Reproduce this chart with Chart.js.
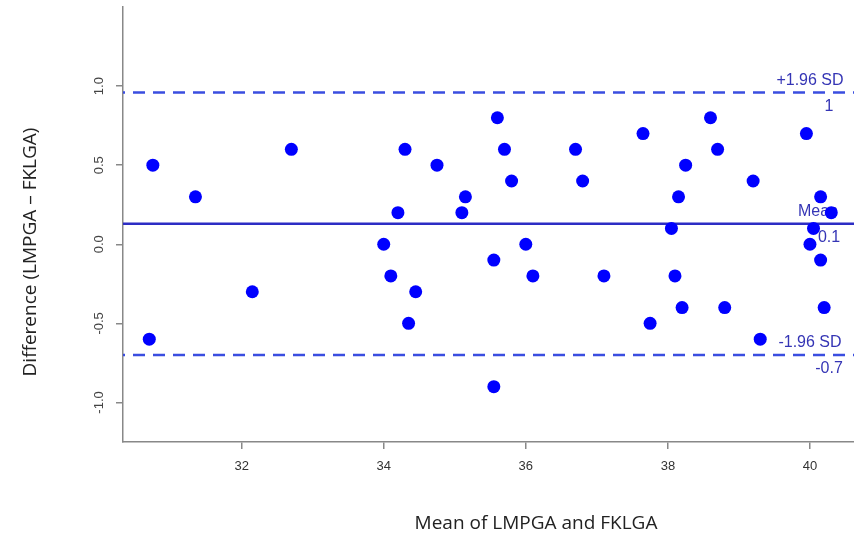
<!DOCTYPE html>
<html>
<head>
<meta charset="utf-8">
<script src="https://cdn.jsdelivr.net/npm/chart.js@4/dist/chart.umd.min.js"></script>
<style>
  body { margin: 0; background: #fff; }
  #wrap { width: 854px; height: 538px; }
</style>
</head>
<body>
<div id="wrap"><canvas id="chartBA" width="854" height="538"></canvas></div>
<script>
// === Data ===
const meanVals = [30.75, 30.7, 31.35, 32.15, 32.7, 34.0, 34.1, 34.2, 34.3, 34.35, 34.45, 34.75,
  35.1, 35.15, 35.55, 35.55, 35.6, 35.7, 35.8, 36.0, 36.1, 36.7, 36.8, 37.1, 37.65, 37.75,
  38.05, 38.1, 38.15, 38.2, 38.25, 38.6, 38.7, 38.8, 39.2, 39.3, 39.95, 40.0, 40.05, 40.15,
  40.15, 40.2, 40.3];
const diffVals = [0.5, -0.6, 0.3, -0.3, 0.6, 0.0, -0.2, 0.2, 0.6, -0.5, -0.3, 0.5,
  0.2, 0.3, -0.1, -0.9, 0.8, 0.6, 0.4, 0.0, -0.2, 0.6, 0.4, -0.2, 0.7, -0.5,
  0.1, -0.2, 0.3, -0.4, 0.5, 0.8, 0.6, -0.4, 0.4, -0.6, 0.7, 0.0, 0.1, 0.3,
  -0.1, -0.4, 0.2];

// limits of agreement: upper, mean, lower
const limitVals = [0.96, 0.13, -0.70];
const limitNames = ["+1.96 SD", "Mean", "-1.96 SD"];
const limitTexts = ["1", "0.1", "-0.7"];

const xTicks = [32, 34, 36, 38, 40];
const yTicks = [-1.0, -0.5, 0.0, 0.5, 1.0];

const xMin = 30.33, xMax = 40.62;
const yMin = -1.25, yMax = 1.5;

// === Styles ===
const axisGrey = "#888";
const labelBlue = "#3535b5";

Chart.defaults.font.family = "'Liberation Sans', Arial, sans-serif";

const points = meanVals.map((m, i) => ({ x: m, y: diffVals[i] }));

function limitLine(v, dashed, color) {
  return {
    data: [{ x: xMin, y: v }, { x: xMax, y: v }],
    showLine: true,
    borderColor: color,
    borderWidth: 2.5,
    borderDash: dashed ? [12, 8] : [],
    borderDashOffset: dashed ? 10 : 0,
    pointRadius: 0,
    fill: false
  };
}

// === Plugin: rotated y tick labels, axis titles, limit labels ===
const textPlugin = {
  id: "textPlugin",
  beforeDatasetsDraw(chart) {
    const ctx = chart.ctx;
    const y = chart.scales.y;
    ctx.save();
    ctx.fillStyle = labelBlue;
    ctx.font = "16px 'Liberation Sans', Arial, sans-serif";
    ctx.textAlign = "center";
    ctx.textBaseline = "middle";
    limitVals.forEach((v, i) => {
      const py = y.getPixelForValue(v);
      ctx.fillText(limitNames[i], i === 1 ? 818 : 810, py - 12);
      ctx.fillText(limitTexts[i], 829, py + 14);
    });
    ctx.restore();
  },
  afterDraw(chart) {
    const ctx = chart.ctx;
    const y = chart.scales.y;
    ctx.save();
    ctx.fillStyle = "#444";
    ctx.font = "13px 'Liberation Sans', Arial, sans-serif";
    ctx.textAlign = "center";
    ctx.textBaseline = "middle";
    yTicks.forEach(v => {
      ctx.save();
      ctx.translate(99, y.getPixelForValue(v));
      ctx.rotate(-Math.PI / 2);
      ctx.fillText(v.toFixed(1), 0, 0);
      ctx.restore();
    });

    // axis titles
    ctx.fillStyle = "#222";
    ctx.font = "19px 'Open Sans', sans-serif";
    ctx.fillText("Mean of LMPGA and FKLGA", 536, 524);
    ctx.save();
    ctx.translate(31, 252);
    ctx.rotate(-Math.PI / 2);
    ctx.fillText("Difference (LMPGA \u2013 FKLGA)", 0, 0);
    ctx.restore();
    ctx.restore();
  }
};

const ctx = document.getElementById("chartBA").getContext("2d");
const chart = new Chart(ctx, {
  type: "scatter",
  data: {
    datasets: [
      {
        data: points,
        backgroundColor: "#0000ff",
        borderWidth: 0,
        pointRadius: 6.5,
        pointHoverRadius: 6.5
      },
      limitLine(limitVals[0], true, "#3a4de0"),
      limitLine(limitVals[1], false, "#2d2dc4"),
      limitLine(limitVals[2], true, "#3a4de0")
    ]
  },
  options: {
    responsive: false,
    animation: false,
    layout: { autoPadding: false, padding: { top: 7, right: 0, left: 0, bottom: 0 } },
    plugins: {
      legend: { display: false },
      tooltip: { enabled: false }
    },
    scales: {
      x: {
        type: "linear",
        min: xMin,
        max: xMax,
        afterFit: s => { s.height = 96; },
        afterBuildTicks: s => { s.ticks = xTicks.map(v => ({ value: v })); },
        ticks: { color: "#333", font: { size: 13 }, padding: 10, maxRotation: 0 },
        grid: { drawOnChartArea: false, drawTicks: true, tickLength: 7, color: axisGrey, lineWidth: 1.5 },
        border: { color: axisGrey, width: 1.5 }
      },
      y: {
        type: "linear",
        min: yMin,
        max: yMax,
        afterFit: s => { s.width = 123; },
        afterBuildTicks: s => { s.ticks = yTicks.map(v => ({ value: v })); },
        ticks: { display: false },
        grid: { drawOnChartArea: false, drawTicks: true, tickLength: 7, color: axisGrey, lineWidth: 1.5 },
        border: { color: axisGrey, width: 1.5 }
      }
    }
  },
  plugins: [textPlugin]
});
</script>
</body>
</html>
